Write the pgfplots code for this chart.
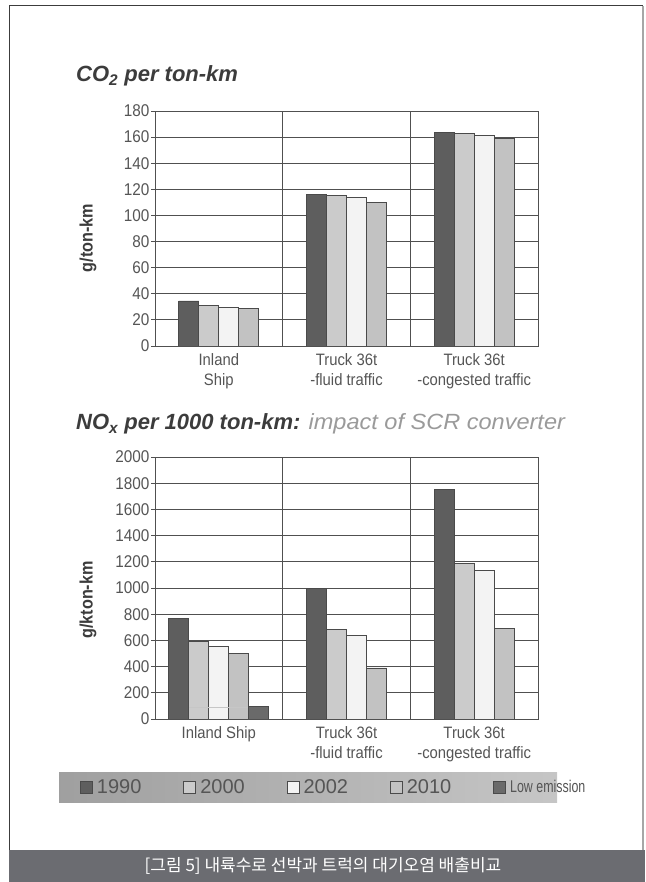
\documentclass[border=0pt]{standalone}
\usepackage{fontspec}
\setmainfont{Liberation Sans}
\newfontfamily\cond{Liberation Sans}[FakeStretch=0.9]
\newfontfamily\kr{Noto Sans CJK KR}
\usepackage{graphicx}
\usepackage{pgfplots}
\pgfplotsset{compat=1.18}
\definecolor{c1990}{HTML}{5E5E5E}
\definecolor{c2000}{HTML}{CBCBCB}
\definecolor{c2002}{HTML}{F3F3F3}
\definecolor{c2010}{HTML}{C2C2C2}
\definecolor{clow}{HTML}{6A6A6A}
\definecolor{edge}{HTML}{4A4A4A}
\definecolor{txt}{HTML}{555555}
\definecolor{ttl}{HTML}{3C3C3C}
\definecolor{sub}{HTML}{9A9A9A}
\definecolor{gridc}{HTML}{505050}
\definecolor{capbar}{HTML}{6B6C71}
\pgfplotsset{
  mystyle/.style={
    scale only axis, width=383pt,
    xmin=-0.5, xmax=2.5, ymin=0,
    axis line style={gridc, line width=0.9pt},
    ymajorgrids, major grid style={gridc, line width=0.9pt},
    xtick={0,1,2}, minor xtick={0.5,1.5}, xminorgrids,
    minor grid style={gridc, line width=0.9pt},
    major x tick style={draw=none}, minor x tick style={draw=none},
    y tick style={gridc, line width=0.9pt},
    major tick length=4pt, tick align=outside, ytick pos=left,
    /pgf/number format/assume math mode=true,
    /pgf/number format/1000 sep={},
    yticklabel style={font=\cond\fontsize{17}{17}\selectfont, text=txt, xshift=2pt},
    xticklabel style={font=\cond\fontsize{16.5}{20.5}\selectfont, text=txt, align=center},
    ybar=0pt, bar width=20pt,
    every axis plot/.append style={draw=edge, line width=0.8pt},
  }
}
\begin{document}
\begin{tikzpicture}
\path[use as bounding box] (0,0) rectangle (645pt,882pt);
% frame and caption bar
\fill[capbar] (9pt,0pt) rectangle (645pt,32pt);
\draw[line width=1pt, ttl] (9pt,32pt) -- (9pt,876pt) -- (643pt,876pt);
\draw[line width=2pt, gray!70] (643pt,876pt) -- (643pt,32pt);
\node[text=white, font=\kr\fontsize{17}{17}\selectfont] at (323pt,16pt) {[그림 5] 내륙수로 선박과 트럭의 대기오염 배출비교};
% titles
\node[anchor=base west, inner sep=0pt, text=ttl, font=\bfseries\itshape\fontsize{22}{22}\selectfont] at (76pt,800pt) {CO\textsubscript{2} per ton-km};
\node[anchor=base west, inner sep=0pt, text=ttl, font=\bfseries\itshape\fontsize{22}{22}\selectfont] at (76pt,452pt) {NO\textsubscript{x} per 1000 ton-km: \textcolor{sub}{\mdseries\scalebox{1.07}[1]{impact of SCR converter}}};
% y labels
\node[rotate=90, text=ttl, font=\cond\bfseries\fontsize{18}{18}\selectfont] at (88pt,644pt) {g/ton-km};
\node[rotate=90, text=ttl, font=\cond\bfseries\fontsize{18}{18}\selectfont] at (88pt,282pt) {g/kton-km};
% legend background
\shade[left color=gray!75, right color=gray!45] (59pt,79pt) rectangle (557pt,109pt);

\begin{axis}[mystyle, at={(155pt,536pt)}, anchor=south west, height=235pt,
  ymax=180, ytick={0,20,...,180},
  xticklabels={Inland\\Ship, Truck 36t\\-fluid traffic, Truck 36t\\-congested traffic}]
\addplot[fill=c1990] coordinates {(0,34.5) (1,115.9) (2,163.5)};
\addplot[fill=c2000] coordinates {(0,31) (1,115.4) (2,162.5)};
\addplot[fill=c2002] coordinates {(0,29.5) (1,114) (2,161)};
\addplot[fill=c2010] coordinates {(0,29) (1,110) (2,159)};
\end{axis}

\begin{axis}[mystyle, at={(155pt,163pt)}, anchor=south west, height=262pt,
  ymax=2000, ytick={0,200,...,2000},
  xticklabels={Inland Ship, Truck 36t\\-fluid traffic, Truck 36t\\-congested traffic},
  legend columns=5,
  legend image code/.code={\draw[#1] (0pt,-6pt) rectangle (12pt,6pt);},
  legend style={at={(-0.2037,-0.2595)}, anchor=west, draw=none, fill=none,
    font=\fontsize{20}{20}\selectfont, text=txt,
    /tikz/every odd column/.append style={column sep=2pt},
    /tikz/every even column/.append style={column sep=40pt}},
  legend cell align=left]
\addplot[fill=c1990, bar shift=-40pt] coordinates {(0,770)};
\addlegendentry{1990}
\addplot[fill=c2000, bar shift=-20pt] coordinates {(0,594)};
\addlegendentry{2000}
\addplot[fill=c2002, bar shift=0pt] coordinates {(0,555)};
\addlegendentry{2002}
\addplot[fill=c2010, bar shift=20pt] coordinates {(0,497)};
\addlegendentry{2010}
\addplot[fill=clow, bar shift=40pt] coordinates {(0,99)};
\addlegendentry{\fontsize{17}{17}\selectfont\scalebox{0.73}[1]{Low emission}}
\addplot[fill=c1990, bar shift=-30pt, forget plot] coordinates {(1,994) (2,1755)};
\addplot[fill=c2000, bar shift=-10pt, forget plot] coordinates {(1,685) (2,1190)};
\addplot[fill=c2002, bar shift=10pt, forget plot] coordinates {(1,639) (2,1136)};
\addplot[fill=c2010, bar shift=30pt, forget plot] coordinates {(1,390) (2,688)};
\addplot[forget plot, sharp plot, draw=gray!45, line width=1.2pt] coordinates {(-0.23,88) (0.23,88)};
\end{axis}
\end{tikzpicture}
\end{document}
